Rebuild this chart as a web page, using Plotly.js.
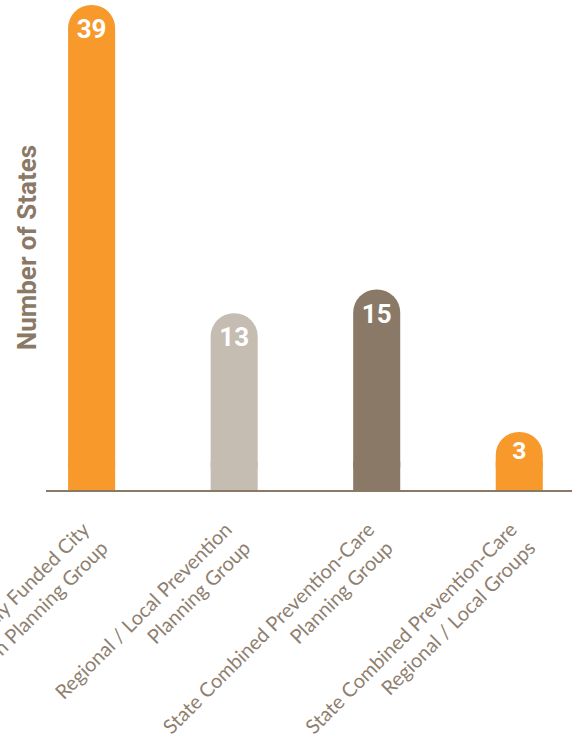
<!DOCTYPE html>
<html>
<head>
<meta charset="utf-8">
<script src="https://cdn.plot.ly/plotly-3.0.1.min.js"></script>
<style>html,body{margin:0;padding:0;background:#fff;}#chart{width:572px;height:744px;}</style>
</head>
<body>
<div id="chart"></div>
<script>
// Data
const categories = [
  "Directly Funded City<br>Prevention Planning Group",
  "Regional / Local Prevention<br>Planning Group",
  "State Combined Prevention-Care<br>Planning Group",
  "State Combined Prevention-Care<br>Regional / Local Groups"
];
const values = [39, 13, 15, 3];
const barColors = ["#F7992B", "#C5BCB2", "#8A7966", "#F7992B"];
const yTitle = "Number of States";

// Style constants
const brown = "#8A7966";
const labelColor = "#8F7F70";
const boldFont = "Roboto, 'Noto Sans', sans-serif";
const yMin = -1.9;   // visual plinth below zero (design element of the original)
const plinthTop = 0.5;

// plinth under each bar (square, no data meaning), drawn first
const plinth = {
  type: "bar",
  x: categories,
  y: categories.map(() => plinthTop - yMin),
  base: yMin,
  marker: { color: barColors, line: { width: 0 } },
  hoverinfo: "skip",
  textposition: "none"
};

const bars = {
  type: "bar",
  x: categories,
  y: values,
  marker: { color: barColors, cornerradius: "50%", line: { width: 0 } },
  texttemplate: "%{y}",
  textposition: "inside",
  insidetextanchor: "end",
  textangle: 0,
  constraintext: "none",
  textfont: { family: boldFont, size: 26, color: "#ffffff", weight: 700 },
  hoverinfo: "skip"
};

const layout = {
  width: 572,
  height: 744,
  margin: { l: 46, r: 0, t: 5, b: 254 },
  paper_bgcolor: "#ffffff",
  plot_bgcolor: "#ffffff",
  barmode: "overlay",
  bargap: 0.67,
  showlegend: false,
  xaxis: {
    type: "category",
    range: [-0.32, 3.37],
    showline: true,
    linecolor: brown,
    linewidth: 2,
    ticks: "",
    showgrid: false,
    zeroline: false,
    tickangle: -45,
    ticklabelstandoff: 18,
    ticklabelshift: -8,
    tickfont: { family: "Lato, 'Noto Sans', sans-serif", size: 20, color: labelColor }
  },
  yaxis: {
    range: [yMin, 39],
    showticklabels: false,
    showgrid: false,
    zeroline: false,
    showline: false,
    ticks: "",
    title: { text: yTitle, standoff: 0, font: { family: boldFont, size: 26, color: brown, weight: 700 } }
  }
};

Plotly.newPlot("chart", [plinth, bars], layout, { staticPlot: true, displayModeBar: false });
</script>
</body>
</html>
